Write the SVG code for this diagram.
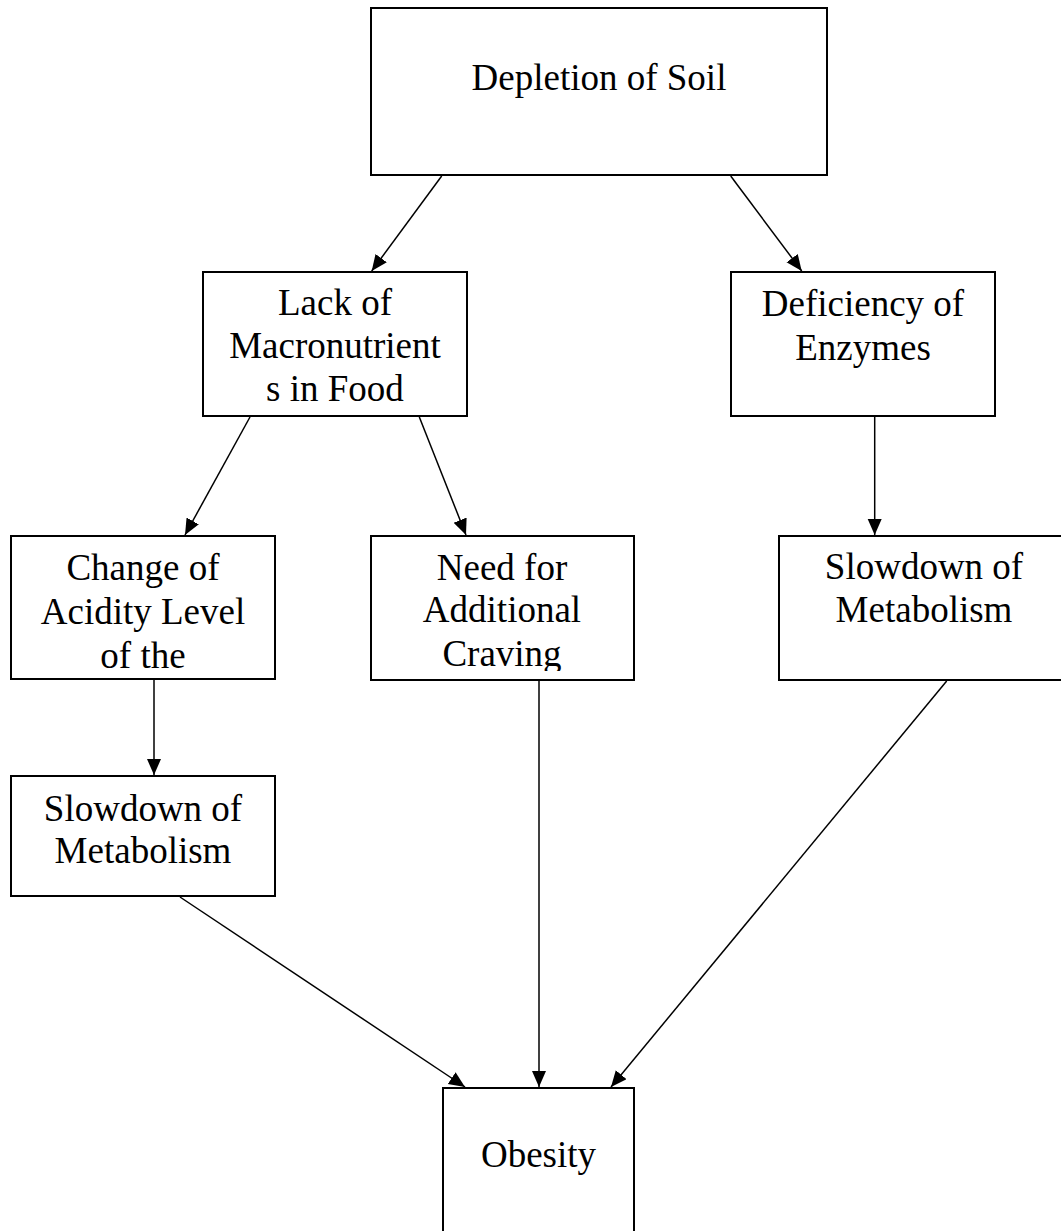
<svg xmlns="http://www.w3.org/2000/svg" width="1061" height="1231" viewBox="0 0 1061 1231">
  <style>
    .box { fill: #ffffff; stroke: #000000; stroke-width: 2; }
    .lbl { font-family: "Liberation Serif", "Times New Roman", serif; font-size: 37px; fill: #000000; text-anchor: middle; }
    .edge { stroke: #000000; stroke-width: 1.5; fill: none; marker-end: url(#arrow); }
  </style>
  <defs>
    <marker id="arrow" markerUnits="userSpaceOnUse" markerWidth="17" markerHeight="15" refX="16" refY="7" orient="auto">
      <path d="M0,0 L16,7 L0,14 z" fill="#000000"/>
    </marker>
    <!-- text box interior of the craving node; the last line runs past it -->
    <clipPath id="need-clip">
      <rect x="371" y="536" width="263" height="135"/>
    </clipPath>
  </defs>
  <rect width="1061" height="1231" fill="#ffffff"/>

  <g id="depletion-of-soil">
    <rect class="box" x="371" y="8" width="456" height="167"/>
    <text class="lbl" x="599" y="90">Depletion of Soil</text>
  </g>

  <g id="lack-of-macronutrients">
    <rect class="box" x="203" y="272" width="264" height="144"/>
    <text class="lbl" x="335" y="315">Lack of</text>
    <text class="lbl" x="335" y="358">Macronutrient</text>
    <text class="lbl" x="335" y="401">s in Food</text>
  </g>

  <g id="deficiency-of-enzymes">
    <rect class="box" x="731" y="272" width="264" height="144"/>
    <text class="lbl" x="863" y="316">Deficiency of</text>
    <text class="lbl" x="863" y="360">Enzymes</text>
  </g>

  <g id="change-of-acidity">
    <rect class="box" x="11" y="536" width="264" height="143"/>
    <text class="lbl" x="143" y="580">Change of</text>
    <text class="lbl" x="143" y="624">Acidity Level</text>
    <text class="lbl" x="143" y="668">of the</text>
  </g>

  <g id="need-for-craving">
    <rect class="box" x="371" y="536" width="263" height="144"/>
    <g clip-path="url(#need-clip)">
      <text class="lbl" x="502" y="580">Need for</text>
      <text class="lbl" x="502" y="622">Additional</text>
      <text class="lbl" x="502" y="666">Craving</text>
    </g>
  </g>

  <g id="slowdown-right">
    <rect class="box" x="779" y="536" width="289" height="144"/>
    <text class="lbl" x="924" y="579">Slowdown of</text>
    <text class="lbl" x="924" y="622">Metabolism</text>
  </g>

  <g id="slowdown-left">
    <rect class="box" x="11" y="776" width="264" height="120"/>
    <text class="lbl" x="143" y="821">Slowdown of</text>
    <text class="lbl" x="143" y="863">Metabolism</text>
  </g>

  <g id="obesity">
    <rect class="box" x="443" y="1088" width="191" height="160"/>
    <text class="lbl" x="538.5" y="1167">Obesity</text>
  </g>

  <g id="connectors">
    <line class="edge" x1="441.7" y1="176" x2="371.7" y2="271"/>
    <line class="edge" x1="730.7" y1="176" x2="801.7" y2="271"/>
    <line class="edge" x1="250" y1="417" x2="185" y2="535"/>
    <line class="edge" x1="419.3" y1="417" x2="466" y2="535"/>
    <line class="edge" x1="874.7" y1="417" x2="874.7" y2="535"/>
    <line class="edge" x1="154" y1="680" x2="154" y2="775"/>
    <line class="edge" x1="180" y1="897" x2="465" y2="1087"/>
    <line class="edge" x1="539" y1="681" x2="539" y2="1087"/>
    <line class="edge" x1="946.7" y1="681" x2="611" y2="1087"/>
  </g>
</svg>
